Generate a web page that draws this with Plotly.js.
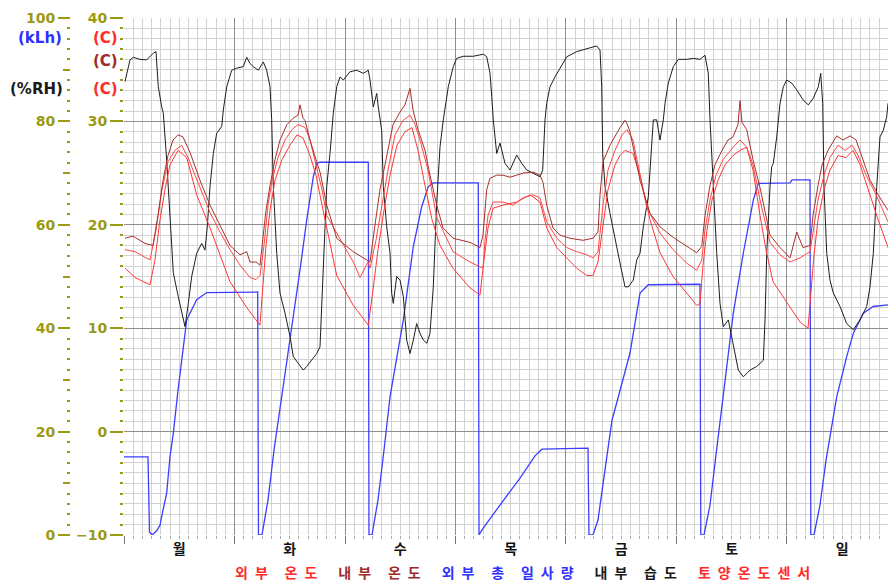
<!DOCTYPE html>
<html><head><meta charset="utf-8">
<script src="https://cdn.plot.ly/plotly-3.0.1.min.js"></script>
<style>html,body{margin:0;padding:0;background:#fff}#chart{width:888px;height:585px}</style>
</head><body><div id="chart"></div>
<script>
// ---- categories / labels ----
const dayLabels = ['월','화','수','목','금','토','일'];
const dayCenters = [12, 36, 60, 84, 108, 132, 156];
const seriesNames = ['외부 온도','내부 온도','외부 총 일사량','내부 습도','토양온도센서'];
const seriesColors = ['#ff2a2a','#9e2b2b','#2f2fff','#1a1a1a','#ff2a2a'];
const unitLabels = ['(kLh)','(C)','(C)','(%RH)','(C)'];

// ---- 외부 총 일사량 (kLh, left 0-100 scale) ----
const radiationHours = [0,5.21,5.54,6.08,7.10,7.82,8.47,9.27,9.99,10.71,11.73,13.62,15.79,17.96,29.04,29.21,29.97,31.28,32.58,34.60,36.77,38.23,39.68,41.12,41.86,42.57,53.06,53.21,53.87,55.17,56.47,57.78,60.67,62.84,64.66,66.09,67.18,76.95,77.11,77.76,81.67,86.01,89.27,90.79,100.78,100.99,101.86,102.95,104.47,105.99,107.36,109.90,112.08,113.88,125.11,125.28,125.98,127.28,128.58,130.17,132.34,134.51,136.69,137.77,144.66,145.09,149.0,149.17,149.87,151.17,152.48,154.80,156.97,158.40,160.58,162.75,165.94];
const radiationValues = [15.1,15.1,0.6,0,0.8,1.9,4.8,8.1,15.1,19.7,28.0,41.6,45.5,46.9,47.0,0,0,6.8,16.4,28.7,41.6,51.3,60.9,69.3,71.9,72.1,72.1,0,0,6.8,16.4,26.7,41.6,55.8,63.5,67.4,68.1,68.1,0,1.0,5.8,11.0,15.3,16.6,16.8,0,0,2.9,12.6,22.2,26.7,35.2,46.8,48.4,48.5,0,0,5.8,15.5,26.7,42.9,54.5,64.8,68.0,68.1,68.7,68.7,0,0,5.8,14.5,26.7,34.5,39.0,42.9,44.2,44.5];

// ---- 내부 습도 (%RH) ----
const humidityHours = [0.22,1.30,2.02,3.48,4.93,6.36,6.95,7.45,8.19,8.54,9.27,9.99,10.71,11.79,12.53,13.25,13.97,14.70,15.79,16.88,17.59,18.09,18.68,19.40,20.13,21.22,21.57,22.31,23.39,24.48,25.91,26.65,27.37,28.08,29.17,30.26,30.99,31.71,32.08,32.43,33.17,33.88,34.97,36.06,36.77,37.86,38.94,39.68,40.77,41.86,42.57,42.94,43.29,44.03,44.74,45.46,46.20,46.92,47.63,49.09,50.54,51.98,53.06,53.43,54.15,54.89,55.23,55.97,56.32,57.06,57.78,58.14,58.49,59.23,59.95,60.67,61.40,62.12,62.84,63.57,64.29,65.01,65.75,66.46,67.18,67.92,68.64,69.35,70.44,71.52,72.26,73.70,75.87,78.04,78.78,79.50,79.87,80.21,80.95,81.67,82.75,83.84,85.30,86.38,87.47,88.90,90.36,90.94,91.44,91.81,92.53,93.61,94.70,96.16,98.33,100.50,102.67,103.39,103.76,103.97,104.47,105.56,106.65,107.73,108.82,109.54,110.62,111.36,112.08,112.79,113.88,114.97,115.70,116.42,117.14,117.51,118.22,119.31,120.40,122.22,123.65,125.11,126.19,126.91,127.28,128.00,128.74,129.45,130.17,131.26,132.00,132.72,133.43,134.52,135.97,137.42,138.86,139.23,139.60,140.31,140.68,141.03,141.77,142.49,143.20,143.94,145.03,146.11,147.55,148.64,149.72,150.81,151.33,151.76,152.04,152.63,153.34,154.06,155.52,156.97,158.40,159.86,161.31,162.03,162.75,163.49,164.20,164.92,165.66,165.94];
const humidityValues = [87.7,91.9,92.4,92.0,91.9,93.2,93.5,86.7,82.8,81.6,72.5,60.9,50.7,46.1,42.9,40.3,44.8,50.0,54.5,56.4,55.1,59.6,67.4,73.8,77.7,79.0,82.2,86.7,89.9,90.3,90.6,92.4,91.2,90.6,89.9,91.5,89.9,86.7,80.3,67.4,54.5,46.8,42.9,38.4,34.5,33.2,31.9,32.6,33.8,35.1,36.4,44.2,54.5,67.4,73.8,81.6,86.7,88.6,88.0,89.6,89.9,89.3,89.9,88.0,82.8,85.4,82.8,78.3,67.4,59.6,54.5,46.8,44.8,50.0,49.3,46.1,37.7,35.1,37.7,40.9,39.0,37.7,37.1,39.0,48.0,64.2,75.1,80.3,86.7,90.6,92.2,92.6,92.6,93.0,92.5,89.3,84.8,80.3,73.8,75.8,71.9,70.6,73.5,71.9,70.6,70.0,69.3,70.6,80.3,83.5,86.7,88.6,90.3,92.5,93.5,94.1,94.6,93.8,86.7,73.8,67.4,62.2,57.7,52.6,48.0,48.0,49.3,53.2,54.5,59.6,65.4,80.3,80.3,76.4,80.3,83.5,87.4,90.6,92.0,92.0,92.2,92.0,92.8,89.3,80.3,67.4,54.5,44.8,40.3,41.6,38.4,35.1,31.9,30.6,31.9,32.6,33.8,41.6,54.5,67.4,71.2,71.9,77.0,83.5,86.7,88.0,87.4,86.1,84.1,83.2,84.5,86.7,89.3,83.5,67.4,54.5,49.3,46.8,44.2,40.9,39.7,41.6,44.2,48.0,54.5,67.4,77.0,78.3,80.9,83.5];

// ---- 내부 온도 (C) ----
const insideTempHours = [0.22,1.95,4.56,6.30,7.38,8.47,9.56,10.64,11.73,12.81,14.34,16.51,18.68,20.85,23.02,25.20,26.65,27.37,28.67,29.54,30.19,30.84,31.71,32.80,33.88,35.40,36.71,37.79,38.23,38.88,39.31,40.40,41.70,42.57,44.03,46.20,49.80,52.71,53.43,54.52,55.60,56.91,58.43,59.95,61.03,62.12,62.77,63.86,65.38,66.46,67.92,69.29,71.46,75.15,77.32,77.97,78.78,79.50,80.95,82.32,83.84,85.30,86.66,88.83,90.36,91.01,91.81,93.18,94.70,96.87,99.69,101.87,102.95,103.39,104.04,105.56,107.73,108.82,109.25,109.90,112.08,114.25,116.42,119.24,122.22,124.39,125.48,126.19,127.28,128.37,129.89,131.19,132.28,133.36,133.80,134.23,135.25,136.62,138.14,140.31,142.49,144.66,146.11,147.48,149.00,149.65,150.74,151.61,152.91,154.80,156.18,157.70,159.01,160.31,162.06,163.79,165.94];
const insideTempValues = [18.7,18.9,18.2,18.0,20.9,24.3,26.7,28.2,28.7,28.5,27.0,24.3,21.9,20.0,18.0,17.1,17.4,16.4,16.4,16.1,18.5,21.4,23.8,26.3,28.2,29.7,30.3,30.6,31.6,30.3,30.1,28.2,26.3,25.1,21.9,18.7,17.4,16.6,16.4,20.0,23.4,26.3,29.7,30.9,31.6,33.2,31.1,29.2,27.2,24.8,21.9,19.7,18.7,18.3,17.8,19.0,23.4,24.5,24.8,24.8,24.6,24.8,25.0,25.1,24.8,24.1,21.9,19.7,19.0,18.7,18.5,18.7,19.3,22.9,26.1,27.7,29.4,30.1,29.8,29.0,24.3,21.1,19.8,18.8,17.9,17.3,17.9,20.9,23.8,25.8,27.2,28.2,28.5,29.7,32.0,29.9,29.2,26.3,23.6,19.0,17.8,16.8,19.3,17.8,18.0,20.9,23.8,25.8,27.2,28.6,28.2,28.6,28.2,26.5,24.3,22.9,21.4];

// ---- 토양온도센서 (C) ----
const soilTempHours = [0.22,2.39,5.65,6.95,8.25,9.56,11.08,12.53,13.90,16.51,18.68,20.85,23.02,25.20,27.37,28.67,29.54,30.41,31.28,32.15,33.45,34.97,36.49,37.79,39.31,40.40,41.70,43.01,44.03,46.92,49.80,51.26,52.99,53.43,54.73,56.04,57.34,58.86,60.60,62.12,63.21,64.29,66.03,67.92,71.46,75.15,77.97,78.41,79.06,80.15,82.32,84.49,86.66,88.83,90.36,91.81,93.99,96.16,98.33,100.50,101.87,102.95,104.04,105.12,106.65,108.17,109.25,110.55,113.54,116.42,119.24,122.22,124.39,125.48,126.19,127.28,128.58,130.11,132.28,133.80,135.25,136.62,138.14,140.31,142.49,144.66,146.83,149.00,149.87,150.74,152.04,153.34,155.10,156.62,158.14,159.44,161.18,163.36,165.94];
const soilTempValues = [17.6,17.4,16.6,19.5,23.4,26.1,27.2,27.7,26.5,23.7,21.2,19.3,17.6,16.1,14.9,14.7,15.1,18.0,21.9,24.3,26.5,28.2,29.2,29.7,29.4,28.2,25.8,23.4,20.9,18.7,16.4,14.9,16.4,15.8,18.5,21.9,25.3,28.7,30.1,30.6,29.7,28.2,25.3,20.7,17.4,16.4,15.8,18.5,20.9,22.2,22.2,21.9,22.6,22.9,22.6,20.3,18.7,17.8,17.4,17.1,16.8,17.4,21.9,25.3,27.2,28.7,29.2,28.2,21.7,19.2,17.6,16.3,15.6,16.6,19.5,22.4,24.8,26.3,27.5,28.2,27.5,25.8,22.4,18.3,17.1,16.4,16.8,17.4,20.0,22.4,24.8,26.5,27.7,27.2,27.7,26.7,24.8,22.9,20.3];

// ---- 외부 온도 (C) ----
const outsideTempHours = [0.22,2.39,5.65,6.73,7.82,8.90,9.99,11.73,13.62,15.79,18.68,23.02,26.65,29.54,30.19,30.84,31.71,32.80,34.32,36.06,37.58,38.88,40.40,41.70,43.01,44.03,46.20,49.80,53.06,54.08,55.17,56.47,57.78,59.30,61.03,62.55,63.86,65.38,66.90,68.64,71.46,75.15,77.32,78.19,79.06,80.15,82.32,85.30,88.18,90.36,91.81,93.99,96.16,98.33,100.50,101.87,102.95,104.04,105.12,106.65,107.73,108.82,110.55,112.08,114.25,116.42,119.24,122.22,124.39,125.11,125.76,126.63,127.71,129.02,130.54,132.28,133.80,135.25,136.62,138.14,139.44,140.96,143.94,146.83,148.57,149.22,149.87,150.74,152.04,153.34,155.10,156.83,158.36,159.88,161.62,163.79,165.94];
const outsideTempValues = [15.8,14.9,14.2,16.6,20.5,23.4,25.8,27.2,26.5,22.9,19.7,14.5,12.0,10.3,14.2,18.0,21.4,24.3,26.3,27.7,28.7,28.4,26.7,24.8,21.9,19.7,15.1,12.2,10.3,13.7,17.6,21.4,24.8,27.7,29.0,29.4,27.2,23.8,20.5,18.0,15.8,13.9,13.2,16.6,19.7,21.6,21.9,22.2,22.9,22.2,19.7,17.8,16.8,15.8,15.1,15.1,16.4,20.0,23.4,25.8,26.7,27.2,26.9,24.8,20.5,17.3,15.0,13.4,12.2,12.4,16.1,19.5,22.4,24.3,25.8,26.7,27.2,27.5,25.3,20.9,17.6,14.5,12.5,10.6,10.0,13.7,17.1,20.5,23.4,25.3,26.7,26.5,27.2,25.8,23.4,20.5,17.8];

// ---- styling ----
const OLIVE = '#9a9a14';
const GRID_MAJOR = '#8e8e8e';
const GRID_MINOR = '#d2d2d2';
const W = 888, H = 585, MT = 18, MB = 50;
const plotLeft = 124, pctAxisX = 70;
const plotH = H - MT - MB;
const px = v => v / W;
const py = v => (H - MB - v) / plotH;

const tickFont = {family: 'DejaVu Sans, sans-serif', size: 14, color: OLIVE, weight: 'bold'};

const traces = [
  {x: outsideTempHours, y: outsideTempValues, name: seriesNames[0], yaxis: 'y2', mode: 'lines', line: {color: '#ff3535', width: 1}},
  {x: soilTempHours, y: soilTempValues, name: seriesNames[4], yaxis: 'y2', mode: 'lines', line: {color: '#ff4545', width: 1}},
  {x: insideTempHours, y: insideTempValues, name: seriesNames[1], yaxis: 'y2', mode: 'lines', line: {color: '#a8302c', width: 1}},
  {x: radiationHours, y: radiationValues, name: seriesNames[2], yaxis: 'y', mode: 'lines', line: {color: '#3d3dff', width: 1.3}},
  {x: humidityHours, y: humidityValues, name: seriesNames[3], yaxis: 'y', mode: 'lines', line: {color: '#1e1e1e', width: 1}},
  {x: [], y: [], xaxis: 'x2', yaxis: 'y', mode: 'lines', hoverinfo: 'skip'},
  {x: [], y: [], yaxis: 'y3', mode: 'lines', hoverinfo: 'skip'}
];
traces.forEach(t => t.showlegend = false);

function spaced(name) {
  return name.split(' ').map(w => Array.from(w).join('\u2002')).join('\u2003\u2009');
}
const legendText = seriesNames.map((n, i) =>
  `<span style="color:${seriesColors[i]}">${spaced(n)}</span>`).join('\u2003\u2002');

const unitFont = {family: 'DejaVu Sans, sans-serif', size: 15, weight: 'bold'};
const unitPos = [[40, 38], [105, 38], [105, 61], [36, 89], [105, 89]];
const unitColors = ['#2f2fff', '#ff2a2a', '#9e2b2b', '#1a1a1a', '#ff2a2a'];
const annotations = unitLabels.map((t, i) => ({
  text: t, xref: 'paper', yref: 'paper', x: px(unitPos[i][0]), y: py(unitPos[i][1]),
  xanchor: 'center', yanchor: 'middle', showarrow: false,
  font: Object.assign({}, unitFont, {color: unitColors[i]})
}));
annotations.push({
  text: legendText, xref: 'paper', yref: 'paper', x: px(522), y: py(572),
  xanchor: 'center', yanchor: 'middle', showarrow: false,
  font: {family: 'Noto Sans CJK KR, sans-serif', size: 14, color: '#000', weight: 700}
});

const layout = {
  width: W, height: H,
  margin: {l: 0, r: 0, t: MT, b: MB, pad: 0},
  paper_bgcolor: '#fff', plot_bgcolor: '#fff',
  showlegend: false,
  xaxis: {
    domain: [plotLeft / W, 1], range: [0, 165.94], anchor: 'y',
    tickmode: 'linear', tick0: 0, dtick: 24, showticklabels: false,
    ticks: 'outside', ticklen: 8, tickcolor: '#777', tickwidth: 1,
    showgrid: true, gridcolor: GRID_MAJOR, gridwidth: 1, zeroline: false, showline: false,
    minor: {tick0: 0, dtick: 2, showgrid: true, gridcolor: GRID_MINOR, gridwidth: 1, ticks: 'outside', ticklen: 3, tickcolor: '#aaa'}
  },
  xaxis2: {
    overlaying: 'x', range: [0, 165.94], anchor: 'y', side: 'bottom',
    tickmode: 'array', tickvals: dayCenters, ticktext: dayLabels,
    ticks: '', showgrid: false, zeroline: false, showline: false, ticklabelstandoff: 4,
    tickfont: {family: 'Noto Sans CJK KR, sans-serif', size: 14, color: '#111', weight: 700}
  },
  yaxis: {
    domain: [0, 1], range: [0, 100], anchor: 'free', position: px(pctAxisX), side: 'left',
    tickmode: 'linear', tick0: 0, dtick: 20,
    ticks: 'outside', ticklen: 12, tickwidth: 2, tickcolor: OLIVE, tickfont: tickFont,
    showgrid: true, gridcolor: GRID_MAJOR, gridwidth: 1, zeroline: false, showline: false,
    minor: {tick0: 0, dtick: 2, showgrid: true, gridcolor: GRID_MINOR, gridwidth: 1, ticks: 'outside', ticklen: 3, tickwidth: 2, tickcolor: OLIVE}
  },
  yaxis2: {
    overlaying: 'y', anchor: 'x', side: 'left', range: [-10, 40],
    tickmode: 'linear', tick0: -10, dtick: 10,
    ticks: 'outside', ticklen: 13, tickwidth: 2, tickcolor: OLIVE, tickfont: tickFont,
    showgrid: false, zeroline: false, showline: false,
    minor: {tick0: -10, dtick: 1, ticks: 'outside', ticklen: 3, tickwidth: 2, tickcolor: OLIVE, showgrid: false}
  },
  yaxis3: {
    overlaying: 'y', anchor: 'free', position: px(pctAxisX), side: 'left', range: [0, 100],
    tickmode: 'linear', tick0: 0, dtick: 10, ticks: 'outside', ticklen: 7, tickwidth: 2, tickcolor: OLIVE,
    showticklabels: false, showgrid: false, zeroline: false, showline: false
  },
  annotations: annotations
};

Plotly.newPlot('chart', traces, layout, {staticPlot: true, displayModeBar: false});
</script>
</body></html>
